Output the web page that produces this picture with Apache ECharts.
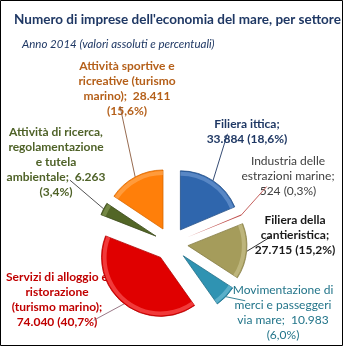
<!DOCTYPE html>
<html>
<head>
<meta charset="utf-8">
<script src="https://cdn.jsdelivr.net/npm/echarts@6/dist/echarts.min.js"></script>
<style>
  html, body { margin: 0; padding: 0; background: #fff; }
  #chart { width: 343px; height: 346px; }
</style>
</head>
<body>
<div id="chart"></div>
<script>
// Sectors, clockwise from 12 o'clock
const sectors = [
  'Filiera ittica',
  'Industria delle estrazioni marine',
  'Filiera della cantieristica',
  'Movimentazione di merci e passeggeri via mare',
  'Servizi di alloggio e ristorazione (turismo marino)',
  'Attività di ricerca, regolamentazione e tutela ambientale',
  'Attività sportive e ricreative (turismo marino)'
];
// Number of firms per sector
const firms = [33884, 524, 27715, 10983, 74040, 6263, 28411];
// Shares printed in the labels (%)
const shares = ['18,6', '0,3', '15,2', '6,0', '40,7', '3,4', '15,6'];
// Label text, line by line
const labelLines = [
  ['Filiera ittica;', '{v}'],
  ['Industria delle', 'estrazioni marine;', '{v}'],
  ['Filiera della', 'cantieristica;', '{v}'],
  ['Movimentazione di', 'merci e passeggeri', 'via mare;  {n}', '({p}%)'],
  ['Servizi di alloggio e', 'ristorazione', '(turismo marino);', '{v}'],
  ['Attività di ricerca,', 'regolamentazione', 'e tutela', 'ambientale;  {n}', '({p}%)'],
  ['Attività sportive e', 'ricreative (turismo', 'marino);  {n}', '({p}%)']
];

const sliceColors = ['#2F66AD', '#C0504D', '#A59C5B', '#2F93B2', '#E00000', '#526626', '#FF7F0A'];
const rimColors   = ['#7AA3D8', '#C0504D', '#D2CB98', '#7FC6DC', '#FF6A6A', '#8FA35C', '#FFB266'];
const edgeColors  = ['#244F86', '#C0504D', '#857C45', '#236F87', '#B00000', '#3C4A1C', '#D86800'];
const textColors  = ['#1F3864', '#404040', '#1A1A1A', '#23758A', '#C00000', '#4F6228', '#B5601A'];
const lineColors  = ['#1F3864', '#C0504D', '#1A1A1A', '#23758A', '#8E6A7A', '#404040', '#8B5A3C'];
const textWeights = ['bold', 'normal', 'bold', 'normal', 'bold', 'bold', 'bold'];
// Centre of each text block
const labelPos = [[247, 132], [288, 176], [295, 235], [283, 313], [57, 300], [56, 162], [127, 89]];
// Where each leader line meets its text block
const lineEnd = [[218, 148], [251, 193], [254, 235], [233, 289], [104, 307], [85, 188], [128, 121]];

const PIE_CENTER = [171, 244];
const PIE_RADIUS = 59;
const EXPLODE = 17;

const fmtInt = v => String(v).replace(/\B(?=(\d{3})+(?!\d))/g, '.');
const labelText = i => labelLines[i].map(s => s
  .replace('{v}', fmtInt(firms[i]) + ' (' + shares[i] + '%)')
  .replace('{n}', fmtInt(firms[i]))
  .replace('{p}', shares[i])).join('\n');

const data = sectors.map((name, i) => ({
  name,
  value: firms[i],
  selected: true,
  itemStyle: {
    color: sliceColors[i],
    borderColor: edgeColors[i],
    borderWidth: i === 1 ? 0 : 0.8
  },
  labelLine: { lineStyle: { color: lineColors[i] } }
}));

// Light band along each outer arc, giving the slices a bevelled rim
const rimData = sectors.map((name, i) => ({
  name,
  value: firms[i],
  selected: true,
  itemStyle: { color: i === 1 ? 'transparent' : rimColors[i], opacity: 0.55 }
}));

const textBlocks = sectors.map((name, i) => ({
  type: 'text',
  x: labelPos[i][0],
  y: labelPos[i][1],
  silent: true,
  style: {
    text: labelText(i),
    fill: textColors[i],
    font: textWeights[i] + ' 12px Lato',
    lineHeight: 15,
    align: 'center',
    verticalAlign: 'middle'
  }
}));

const chart = echarts.init(document.getElementById('chart'), null, { renderer: 'canvas' });
chart.setOption({
  backgroundColor: '#fff',
  animation: false,
  title: [
    {
      text: "Numero di imprese dell'economia del mare, per settore",
      left: 9, top: 8,
      textStyle: { fontFamily: 'Lato', fontSize: 13.5, fontWeight: 'bold', color: '#1F3864' }
    },
    {
      text: 'Anno 2014 (valori assoluti e percentuali)',
      left: 17, top: 33,
      textStyle: { fontFamily: 'Lato', fontSize: 11.5, fontStyle: 'italic', fontWeight: 'normal', color: '#1F3864' }
    }
  ],
  graphic: [{
    type: 'rect',
    shape: { x: 0.5, y: 0.5, width: 342, height: 345 },
    style: { fill: 'none', stroke: '#000', lineWidth: 1 },
    silent: true
  }].concat(textBlocks),
  series: [{
    type: 'pie',
    center: PIE_CENTER,
    radius: PIE_RADIUS,
    startAngle: 90,
    clockwise: true,
    selectedMode: 'multiple',
    selectedOffset: EXPLODE,
    avoidLabelOverlap: false,
    emphasis: { disabled: true },
    label: { show: true, formatter: ' ', fontSize: 1 },
    labelLine: { show: true, length: 8, length2: 6, lineStyle: { width: 0.9 } },
    labelLayout: function (params) {
      const e = lineEnd[params.dataIndex];
      const p0 = params.labelLinePoints ? params.labelLinePoints[0] : e;
      return { labelLinePoints: [p0, e, e] };
    },
    data: data
  }, {
    type: 'pie',
    silent: true,
    center: PIE_CENTER,
    radius: [PIE_RADIUS - 5, PIE_RADIUS - 1],
    startAngle: 90,
    clockwise: true,
    selectedMode: 'multiple',
    selectedOffset: EXPLODE,
    emphasis: { disabled: true },
    label: { show: false },
    labelLine: { show: false },
    data: rimData
  }]
});
</script>
</body>
</html>
